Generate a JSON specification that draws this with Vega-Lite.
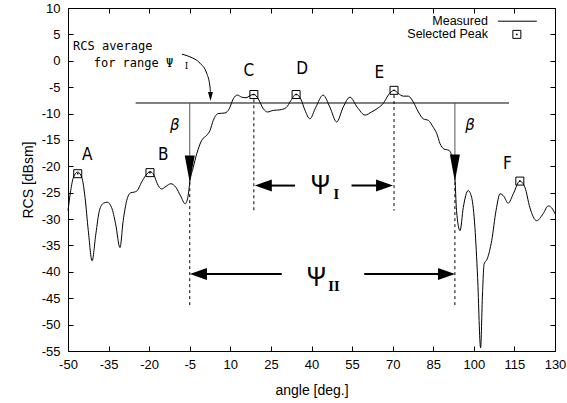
{
  "$schema": "https://vega.github.io/schema/vega-lite/v6.json",
  "width": 487,
  "height": 343,
  "autosize": {"type": "none"},
  "padding": {"left": 68, "top": 8, "right": 12, "bottom": 52},
  "background": "white",
  "config": {
    "view": {"stroke": null},
    "axis": {
      "domainColor": "black", "tickColor": "black", "labelColor": "black", "titleColor": "black",
      "labelFont": "Liberation Sans", "titleFont": "Liberation Sans",
      "labelFontSize": 13, "titleFontSize": 14, "titleFontWeight": "normal",
      "grid": false, "labelFlush": false, "labelOverlap": false, "labelBound": false,
      "tickSize": -5, "domainWidth": 1, "tickWidth": 1
    },
    "text": {"color": "black"}
  },
  "datasets": {
    "curve": [
      {"x": -50, "y": -28.4}, {"x": -49, "y": -24.6}, {"x": -48, "y": -22.1}, {"x": -46.4, "y": -21.1},
      {"x": -44.9, "y": -22.1}, {"x": -43.7, "y": -25.9}, {"x": -42.5, "y": -32.2}, {"x": -41.1, "y": -37.9},
      {"x": -39.7, "y": -32.8}, {"x": -38.4, "y": -28.4}, {"x": -36.9, "y": -27.0}, {"x": -35.5, "y": -26.8},
      {"x": -33.9, "y": -27.8}, {"x": -32.4, "y": -30.9}, {"x": -30.8, "y": -35.4}, {"x": -29.6, "y": -30.3},
      {"x": -28.3, "y": -26.5}, {"x": -26.8, "y": -25.0}, {"x": -25.6, "y": -24.9}, {"x": -24.4, "y": -24.6},
      {"x": -22.8, "y": -23.0}, {"x": -21.2, "y": -21.7}, {"x": -19.7, "y": -21.0}, {"x": -18.2, "y": -21.7},
      {"x": -17.0, "y": -23.3}, {"x": -15.4, "y": -24.3}, {"x": -13.8, "y": -23.8}, {"x": -12.0, "y": -23.3},
      {"x": -10.1, "y": -24.0}, {"x": -8.4, "y": -25.6}, {"x": -6.7, "y": -27.1}, {"x": -5.7, "y": -25.9},
      {"x": -4.9, "y": -22.7}, {"x": -3.7, "y": -20.2}, {"x": -2.4, "y": -17.6}, {"x": -0.6, "y": -15.1},
      {"x": 1.3, "y": -14.1}, {"x": 2.5, "y": -13.2}, {"x": 3.7, "y": -11.3}, {"x": 5.5, "y": -10.0},
      {"x": 8.0, "y": -9.9}, {"x": 9.6, "y": -9.1}, {"x": 11.1, "y": -7.2}, {"x": 12.6, "y": -6.5},
      {"x": 14.2, "y": -6.9}, {"x": 15.8, "y": -7.0}, {"x": 17.3, "y": -6.6}, {"x": 18.7, "y": -6.35},
      {"x": 20.3, "y": -7.2}, {"x": 22.2, "y": -9.1}, {"x": 23.7, "y": -9.7}, {"x": 25.9, "y": -9.4},
      {"x": 28.3, "y": -9.3}, {"x": 30.6, "y": -8.9}, {"x": 32.4, "y": -7.5}, {"x": 34.3, "y": -6.35},
      {"x": 36.0, "y": -7.2}, {"x": 37.6, "y": -9.4}, {"x": 39.4, "y": -11.0}, {"x": 41.6, "y": -8.8},
      {"x": 44.3, "y": -6.5}, {"x": 46.8, "y": -8.8}, {"x": 49.3, "y": -11.6}, {"x": 51.7, "y": -8.8},
      {"x": 54.2, "y": -6.9}, {"x": 56.9, "y": -8.8}, {"x": 59.8, "y": -10.3}, {"x": 62.2, "y": -9.7},
      {"x": 64.7, "y": -8.9}, {"x": 66.5, "y": -8.1}, {"x": 68.4, "y": -6.5}, {"x": 70.5, "y": -5.6},
      {"x": 72.1, "y": -6.2}, {"x": 73.9, "y": -6.7}, {"x": 75.8, "y": -6.7}, {"x": 77.6, "y": -7.8},
      {"x": 79.5, "y": -9.7}, {"x": 81.3, "y": -11.0}, {"x": 83.2, "y": -11.3}, {"x": 85.0, "y": -12.6},
      {"x": 86.3, "y": -13.8}, {"x": 87.5, "y": -15.7}, {"x": 88.9, "y": -16.7}, {"x": 90.9, "y": -17.0},
      {"x": 92.2, "y": -18.9}, {"x": 93.0, "y": -22.1}, {"x": 93.6, "y": -28.4}, {"x": 94.9, "y": -32.2},
      {"x": 96.1, "y": -27.8}, {"x": 97.9, "y": -24.6}, {"x": 99.2, "y": -25.9}, {"x": 100.4, "y": -31.6},
      {"x": 101.4, "y": -41.1}, {"x": 102.5, "y": -54.4}, {"x": 103.2, "y": -44.2}, {"x": 103.8, "y": -38.5},
      {"x": 104.9, "y": -37.6}, {"x": 106.6, "y": -34.1}, {"x": 108.2, "y": -28.4}, {"x": 109.7, "y": -25.2},
      {"x": 111.1, "y": -25.7}, {"x": 112.7, "y": -27.0}, {"x": 114.6, "y": -25.2}, {"x": 117.0, "y": -22.8},
      {"x": 118.9, "y": -24.0}, {"x": 120.7, "y": -27.8}, {"x": 123.2, "y": -30.3}, {"x": 125.6, "y": -29.0},
      {"x": 127.5, "y": -27.5}, {"x": 129.1, "y": -28.1}, {"x": 130, "y": -29.0}
    ],
    "peaks": [
      {"x": -46.4, "y": -21.4}, {"x": -19.7, "y": -21.2}, {"x": 18.7, "y": -6.4},
      {"x": 34.3, "y": -6.4}, {"x": 70.5, "y": -5.6}, {"x": 117.0, "y": -22.8}, {"x": 115.9, "y": 5.0}
    ],
    "letters": [
      {"x": -42.9, "y": -17.8, "t": "A"}, {"x": -14.8, "y": -17.8, "t": "B"}, {"x": 16.8, "y": -1.9, "t": "C"},
      {"x": 36.5, "y": -1.6, "t": "D"}, {"x": 65.1, "y": -2.4, "t": "E"}, {"x": 112.4, "y": -19.5, "t": "F"}
    ],
    "arc": [
      {"x": -7.87, "y": 1.25}, {"x": -4.9, "y": 0.74}, {"x": -1.2, "y": -0.46},
      {"x": 1.26, "y": -2.36}, {"x": 2.48, "y": -4.96}, {"x": 2.66, "y": -6.2}
    ]
  },
  "encoding": {
    "x": {"field": "x", "type": "quantitative", "scale": {"domain": [-50, 130], "nice": false, "zero": false}, "axis": null},
    "y": {"field": "y", "type": "quantitative", "scale": {"domain": [-55, 10], "nice": false, "zero": false}, "axis": null}
  },
  "layer": [
    {
      "data": {"name": "curve"},
      "mark": {"type": "line", "interpolate": "monotone", "color": "black", "strokeWidth": 1},
      "encoding": {
        "x": {"field": "x", "type": "quantitative", "scale": {"domain": [-50, 130], "nice": false, "zero": false},
          "axis": {"orient": "bottom", "values": [-50, -35, -20, -5, 10, 25, 40, 55, 70, 85, 100, 115, 130],
            "title": "angle [deg.]", "labelPadding": 12, "titlePadding": 12, "labelExpr": "'' + datum.value"}},
        "y": {"field": "y", "type": "quantitative", "scale": {"domain": [-55, 10], "nice": false, "zero": false},
          "axis": {"orient": "left", "values": [-55, -50, -45, -40, -35, -30, -25, -20, -15, -10, -5, 0, 5, 10],
            "title": "RCS [dBsm]", "labelPadding": 13, "titlePadding": 6, "labelExpr": "'' + datum.value"}}
      }
    },
    {
      "data": {"values": [{"x": -25, "x2": 113, "y": -8}]},
      "mark": {"type": "rule", "color": "black", "strokeWidth": 1},
      "encoding": {
        "x": {"field": "x", "type": "quantitative", "scale": {"domain": [-50, 130], "nice": false, "zero": false},
          "axis": {"orient": "top", "values": [-50, -35, -20, -5, 10, 25, 40, 55, 70, 85, 100, 115, 130], "labels": false, "title": null}},
        "x2": {"field": "x2"},
        "y": {"field": "y", "type": "quantitative", "scale": {"domain": [-55, 10], "nice": false, "zero": false},
          "axis": {"orient": "right", "values": [-55, -50, -45, -40, -35, -30, -25, -20, -15, -10, -5, 0, 5, 10], "labels": false, "title": null}}
      }
    },
    {
      "data": {"values": [
        {"x": -5, "y": -23, "y2": -46.3}, {"x": 93, "y": -23, "y2": -46.3},
        {"x": 18.7, "y": -7.3, "y2": -28.4}, {"x": 70.5, "y": -6.5, "y2": -28.4}
      ]},
      "mark": {"type": "rule", "color": "black", "strokeWidth": 1, "strokeDash": [3, 3]},
      "encoding": {"y2": {"field": "y2"}}
    },
    {
      "data": {"values": [{"x": -5, "y": -8, "y2": -18}, {"x": 93, "y": -8, "y2": -18}]},
      "mark": {"type": "rule", "color": "#555555", "strokeWidth": 1},
      "encoding": {"y2": {"field": "y2"}}
    },
    {
      "data": {"values": [{"x": -5, "y": -20.5}, {"x": 93, "y": -20.3}]},
      "mark": {"type": "point", "shape": "M-0.37,-1L0.37,-1L0,1Z", "size": 729, "filled": true, "color": "black", "opacity": 1, "strokeWidth": 0}
    },
    {
      "data": {"values": [
        {"x": 22.2, "x2": 33.9, "y": -23.65}, {"x": 54.8, "x2": 67.0, "y": -23.65},
        {"x": -1.8, "x2": 29, "y": -40.4}, {"x": 59.5, "x2": 89.9, "y": -40.4}
      ]},
      "mark": {"type": "rule", "color": "black", "strokeWidth": 2},
      "encoding": {"x2": {"field": "x2"}}
    },
    {
      "data": {"values": [{"x": 22.2, "y": -23.65}, {"x": -1.8, "y": -40.4}]},
      "mark": {"type": "point", "shape": "M-1,0L1,-0.7L1,0.7Z", "size": 289, "filled": true, "color": "black", "opacity": 1, "strokeWidth": 0}
    },
    {
      "data": {"values": [{"x": 67.0, "y": -23.65}, {"x": 89.9, "y": -40.4}]},
      "mark": {"type": "point", "shape": "M1,0L-1,-0.7L-1,0.7Z", "size": 289, "filled": true, "color": "black", "opacity": 1, "strokeWidth": 0}
    },
    {
      "data": {"name": "peaks"},
      "mark": {"type": "point", "shape": "square", "size": 64, "filled": false, "color": "black", "opacity": 1, "strokeWidth": 1}
    },
    {
      "data": {"name": "peaks"},
      "mark": {"type": "point", "shape": "circle", "size": 3, "filled": true, "color": "black", "opacity": 1}
    },
    {
      "data": {"name": "letters"},
      "mark": {"type": "text", "font": "DejaVu Sans Condensed, Liberation Sans Narrow, DejaVu Sans", "fontSize": 17, "align": "center", "baseline": "middle"},
      "encoding": {"text": {"field": "t"}}
    },
    {
      "data": {"values": [{"x": -10.5, "y": -12.2, "t": "β"}, {"x": 98.6, "y": -12.2, "t": "β"}]},
      "mark": {"type": "text", "font": "DejaVu Sans", "fontStyle": "italic", "fontSize": 15, "align": "center", "baseline": "middle"},
      "encoding": {"text": {"field": "t"}}
    },
    {
      "data": {"values": [{"x": 43.3, "y": -23.8, "t": "Ψ"}, {"x": 41.8, "y": -41.1, "t": "Ψ"}]},
      "mark": {"type": "text", "font": "Noto Sans CJK JP", "fontSize": 26, "align": "center", "baseline": "middle"},
      "encoding": {"text": {"field": "t"}}
    },
    {
      "data": {"values": [{"x": 49.2, "y": -25.4, "t": "I"}, {"x": 48.3, "y": -42.8, "t": "II"}]},
      "mark": {"type": "text", "font": "DejaVu Serif", "fontSize": 12, "fontWeight": "bold", "align": "center", "baseline": "middle"},
      "encoding": {"text": {"field": "t"}}
    },
    {
      "data": {"values": [{"x": -48.15, "y": 2.8, "t": "RCS average"}]},
      "mark": {"type": "text", "font": "DejaVu Sans Mono", "fontSize": 12, "align": "left", "baseline": "middle"},
      "encoding": {"text": {"field": "t"}}
    },
    {
      "data": {"values": [{"x": -40.5, "y": -0.45, "t": "for range Ψ"}]},
      "mark": {"type": "text", "font": "DejaVu Sans Mono", "fontSize": 12, "align": "left", "baseline": "middle"},
      "encoding": {"text": {"field": "t"}}
    },
    {
      "data": {"values": [{"x": -6.2, "y": -1.0, "t": "I"}]},
      "mark": {"type": "text", "font": "DejaVu Serif", "fontSize": 9, "align": "center", "baseline": "middle"},
      "encoding": {"text": {"field": "t"}}
    },
    {
      "data": {"name": "arc"},
      "mark": {"type": "line", "interpolate": "monotone", "color": "black", "strokeWidth": 1}
    },
    {
      "data": {"values": [{"x": 2.66, "y": -6.75}]},
      "mark": {"type": "point", "shape": "M-0.55,-1L0.55,-1L0,1Z", "size": 81, "filled": true, "color": "black", "opacity": 1, "strokeWidth": 0}
    },
    {
      "data": {"values": [{"x": 108.9, "x2": 123.3, "y": 7.5}]},
      "mark": {"type": "rule", "color": "black", "strokeWidth": 1},
      "encoding": {"x2": {"field": "x2"}}
    },
    {
      "data": {"values": [{"x": 105.2, "y": 7.5, "t": "Measured"}, {"x": 105.2, "y": 5.0, "t": "Selected Peak"}]},
      "mark": {"type": "text", "font": "Liberation Sans", "fontSize": 12.5, "align": "right", "baseline": "middle"},
      "encoding": {"text": {"field": "t"}}
    }
  ],
  "resolve": {"axis": {"x": "independent", "y": "independent"}}
}
